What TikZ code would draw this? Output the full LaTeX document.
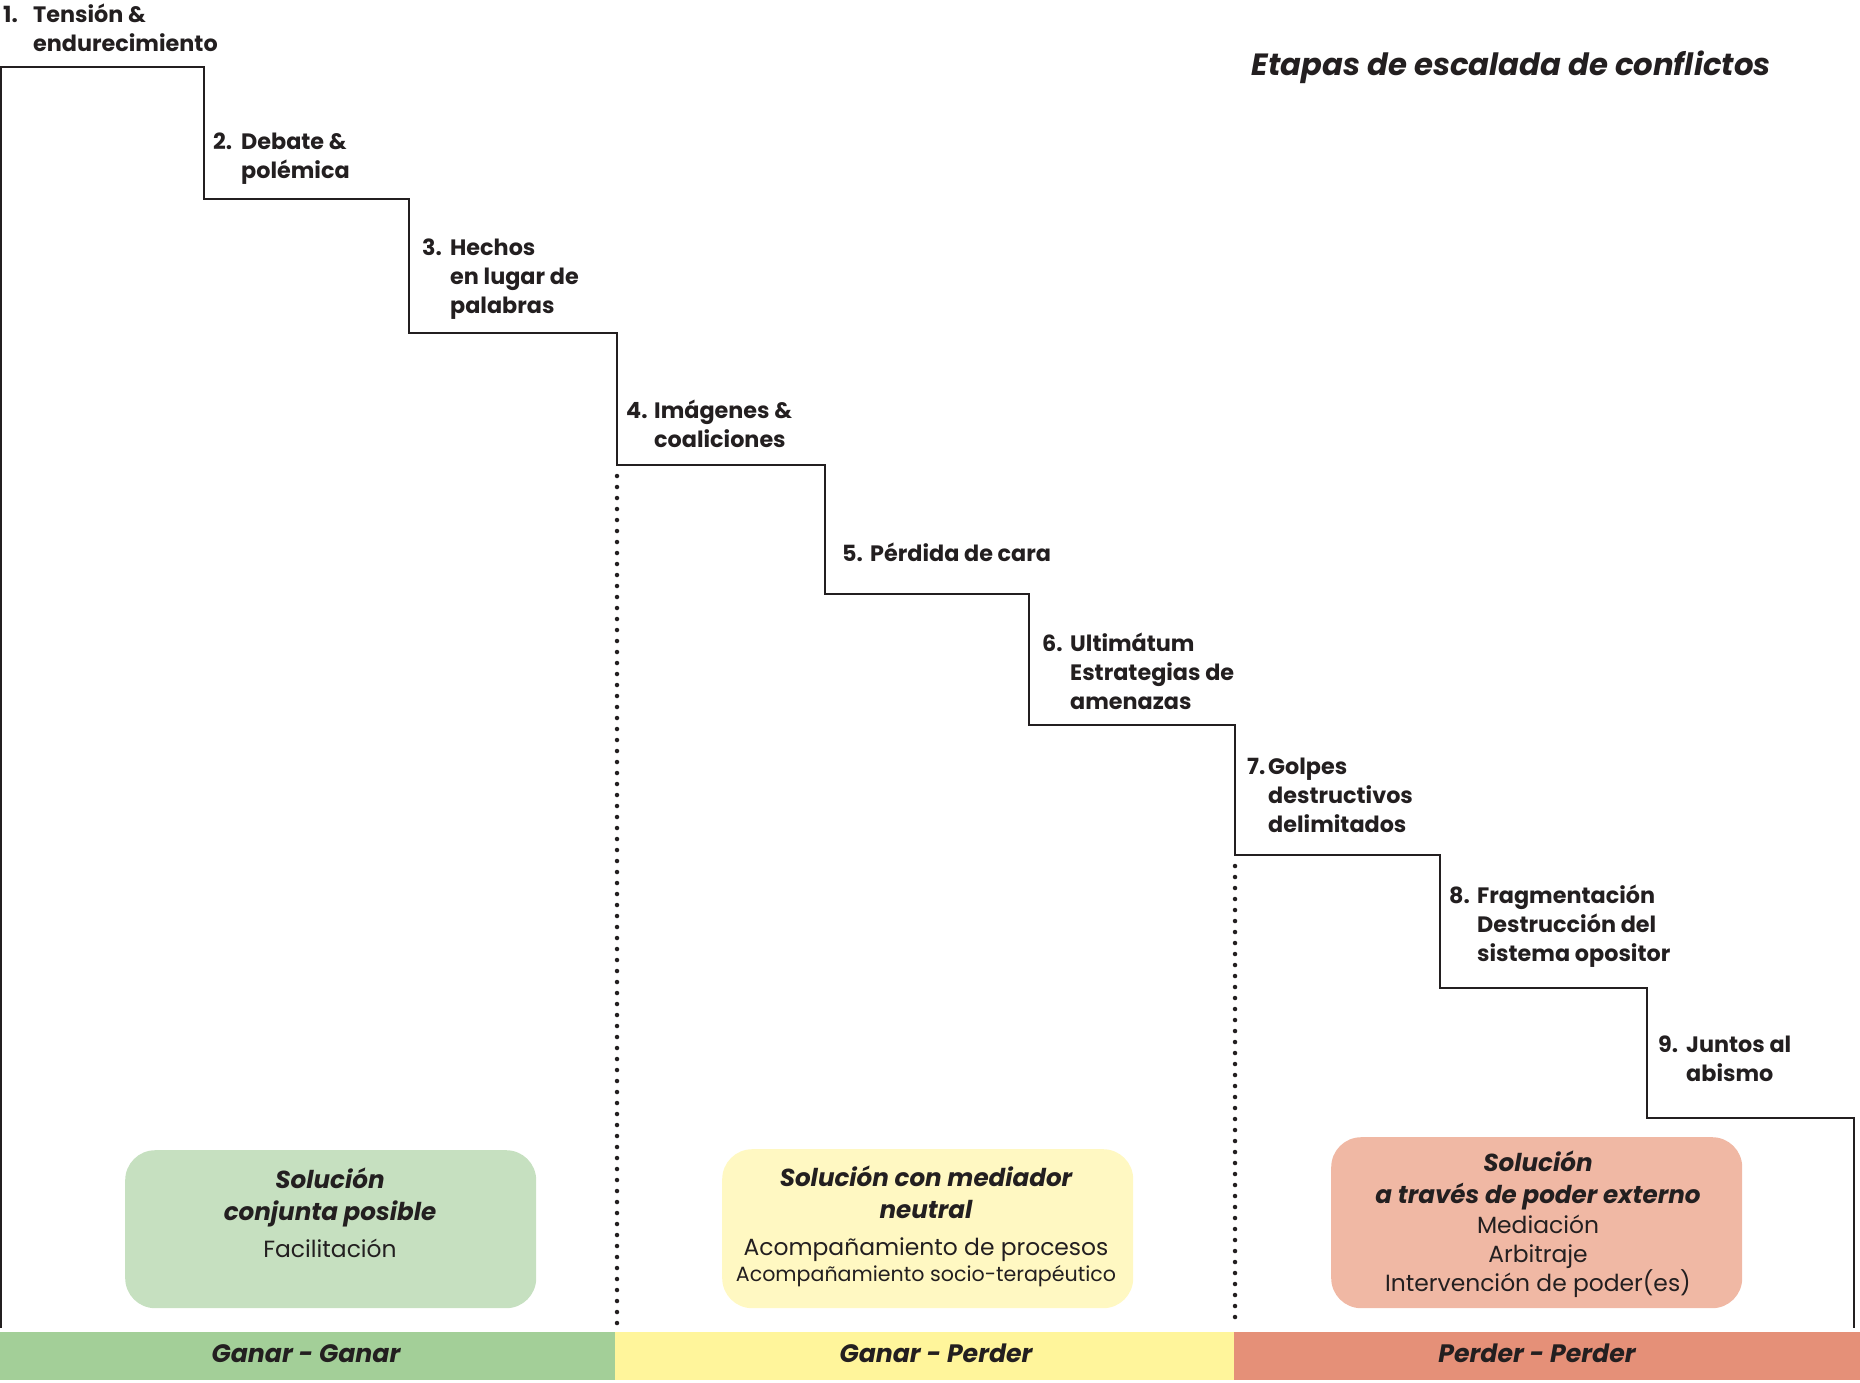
\documentclass[tikz,border=0pt]{standalone}
\usepackage{fontspec}
\setmainfont{Poppins}
\usetikzlibrary{positioning}

\definecolor{ink}{HTML}{231F20}
\definecolor{bargreen}{HTML}{A3CF98}
\definecolor{boxgreen}{HTML}{C6E0C0}
\definecolor{baryellow}{HTML}{FFF59B}
\definecolor{boxyellow}{HTML}{FFF8C2}
\definecolor{barsalmon}{HTML}{E59078}
\definecolor{boxsalmon}{HTML}{F0B8A4}

% number with hanging lines
\newcommand{\stage}[3][28pt]{\makebox[#1][l]{#2}\begin{tabular}[t]{@{}l@{}}#3\end{tabular}}

\begin{document}
\begin{tikzpicture}[x=1pt, y=-1pt, every node/.style={inner sep=0pt, text=ink},
  stair/.style={line width=2.4pt, draw=ink, line join=miter},
  dots/.style={line width=4.5pt, draw=ink, line cap=round, dash pattern=on 0pt off 11pt},
  stagelabel/.style={anchor=base west, font=\fontsize{22.3}{29}\selectfont\bfseries},
  box/.style={rounded corners=30pt, minimum width=411, anchor=north west},
  head/.style={anchor=base, font=\fontsize{24.6}{29}\selectfont\bfseries\itshape},
  body/.style={anchor=base, font=\fontsize{23.4}{27}\selectfont},
  barlabel/.style={anchor=base, font=\fontsize{25.2}{29}\selectfont\bfseries\itshape}]
  \useasboundingbox (0,0) rectangle (1860,1382);

  % Bottom bar
  \fill[bargreen] (0,1332) rectangle (615,1380);
  \fill[baryellow] (615,1332) rectangle (1234,1380);
  \fill[barsalmon] (1234,1332) rectangle (1860,1380);
  \node[barlabel] (gg) at (306,1362) {Ganar - Ganar};
  \node[barlabel] (gp) at (936,1362) {Ganar - Perder};
  \node[barlabel] (pp) at (1537,1362) {Perder - Perder};

  % Staircase
  \draw[stair] (1,1328) |- (204,67) |- (409,199) |- (617,333) |- (825,465)
    |- (1029,594) |- (1235,725) |- (1440,855) |- (1647,988) |- (1854,1118) -- (1854,1328);
  \draw[dots] (617,476) -- (617,1328);
  \draw[dots] (1235,866) -- (1235,1328);

  % Stages
  \node[stagelabel] (s1) at (3,22) {\stage[30pt]{1.}{Tensión \&\\endurecimiento}};
  \node[stagelabel] (s2) at (213,149) {\stage{2.}{Debate \&\\polémica}};
  \node[stagelabel] (s3) at (422,255) {\stage{3.}{Hechos\\en lugar de\\palabras}};
  \node[stagelabel] (s4) at (626,418) {\stage{4.}{Imágenes \&\\coaliciones}};
  \node[stagelabel] (s5) at (842,561) {\stage{5.}{Pérdida de cara}};
  \node[stagelabel] (s6) at (1042,651) {\stage{6.}{Ultimátum\\Estrategias de\\amenazas}};
  \node[stagelabel] (s7) at (1247,774) {\stage[21pt]{7.}{Golpes\\destructivos\\delimitados}};
  \node[stagelabel] (s8) at (1449,903) {\stage{8.}{Fragmentación\\Destrucción del\\sistema opositor}};
  \node[stagelabel] (s9) at (1658,1052) {\stage{9.}{Juntos al\\abismo}};

  \node[anchor=base east, font=\fontsize{30.7}{36}\selectfont\bfseries\itshape] (title)
    at (1771,75) {Etapas de escalada de conflictos};

  % Solution boxes
  \node[box, fill=boxgreen, minimum height=158] (bg) at (125,1150) {};
  \node[head] (bg1) at (330,1188) {Solución};
  \node[head] (bg2) at (330,1220) {conjunta posible};
  \node[body] (bg3) at (330,1257) {Facilitación};

  \node[box, fill=boxyellow, minimum height=159] (by) at (722,1149) {};
  \node[head] (by1) at (926,1186) {Solución con mediador};
  \node[head] (by2) at (926,1218) {neutral};
  \node[body] (by3) at (926,1255) {Acompañamiento de procesos};
  \node[body, font=\fontsize{20.6}{24}\selectfont] (by4) at (926,1281) {Acompañamiento socio-terapéutico};

  \node[box, fill=boxsalmon, minimum height=171] (bs) at (1331,1137) {};
  \node[head] (bs1) at (1538,1171) {Solución};
  \node[head] (bs2) at (1538,1203) {a través de poder externo};
  \node[body] (bs3) at (1538,1233) {Mediación};
  \node[body] (bs4) at (1538,1262) {Arbitraje};
  \node[body] (bs5) at (1538,1291) {Intervención de poder(es)};
\end{tikzpicture}
\end{document}
